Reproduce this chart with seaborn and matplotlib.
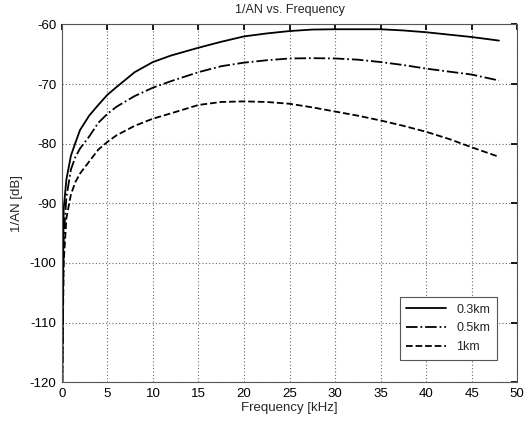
import matplotlib
matplotlib.use("Agg")
import pandas as pd
import matplotlib.pyplot as plt
import seaborn as sns

# 주파수 [kHz] 및 거리별 1/AN [dB]
freq_khz = [0.05, 0.2, 0.5, 1, 1.5, 2, 3, 4, 5, 6, 8, 10, 12, 15, 17.5,
            20, 22.5, 25, 27.5, 30, 32.5, 35, 37.5, 40, 42.5, 45, 48]
an_03km = [-120, -91, -86, -82, -79.8, -77.7, -75.3, -73.5, -71.8, -70.5, -68.0,
           -66.3, -65.2, -63.9, -62.9, -62.0, -61.5, -61.1, -60.85, -60.8, -60.8,
           -60.8, -61.0, -61.3, -61.7, -62.1, -62.7]
an_05km = [-120, -96, -89, -84.3, -82.2, -80.8, -78.8, -76.5, -75.0, -73.8, -72.0,
           -70.6, -69.5, -68.0, -67.0, -66.4, -66.0, -65.7, -65.65, -65.7, -65.9,
           -66.3, -66.8, -67.4, -67.9, -68.4, -69.4]
an_1km = [-120, -100, -92.5, -88.5, -86.4, -85.0, -83.0, -81.0, -79.7, -78.6, -77.0,
          -75.8, -74.9, -73.5, -73.0, -72.9, -73.0, -73.3, -73.9, -74.6, -75.3,
          -76.1, -77.0, -78.0, -79.2, -80.6, -82.2]
labels = ["0.3km", "0.5km", "1km"]
styles = ["-", "-.", "--"]

sns.set_theme(style="white")
plt.rcParams["font.family"] = ["Liberation Sans", "DejaVu Sans"]
plt.rcParams["axes.unicode_minus"] = False

fig = plt.figure(figsize=(5.24, 4.26), dpi=100)
ax = fig.add_axes([0.118, 0.103, 0.869, 0.8395])

for vals, lab, ls in zip([an_03km, an_05km, an_1km], labels, styles):
    df = pd.DataFrame({"f": freq_khz, "v": vals})
    sns.lineplot(data=df, x="f", y="v", ax=ax, color="black", linewidth=1.3,
                 linestyle=ls, label=lab, estimator=None, sort=False)

ax.set_xlim(0, 50)
ax.set_ylim(-120, -60)
ax.set_xticks(range(0, 51, 5))
ax.set_yticks(range(-120, -59, 10))
ax.grid(True, color="#666666", linestyle=(0, (1, 2)), linewidth=0.8)
ax.tick_params(direction="in", length=4, labelsize=9.5, colors="black",
               top=True, right=True, pad=4)
for s in ax.spines.values():
    s.set_color("#555555")
    s.set_linewidth(0.8)

ax.set_title("1/AN vs. Frequency", fontsize=9, pad=8)
ax.set_xlabel("Frequency [kHz]", fontsize=9.5, labelpad=2)
ax.set_ylabel("1/AN [dB]", fontsize=9.5, labelpad=5)

leg = ax.legend(loc="lower right", bbox_to_anchor=(0.956, 0.0615), borderaxespad=0,
                fontsize=9, fancybox=False, framealpha=1, edgecolor="#555555",
                handlelength=3.2, labelspacing=0.55, borderpad=0.55)
leg.get_frame().set_linewidth(0.8)

fig.savefig("out.png", dpi=100)
